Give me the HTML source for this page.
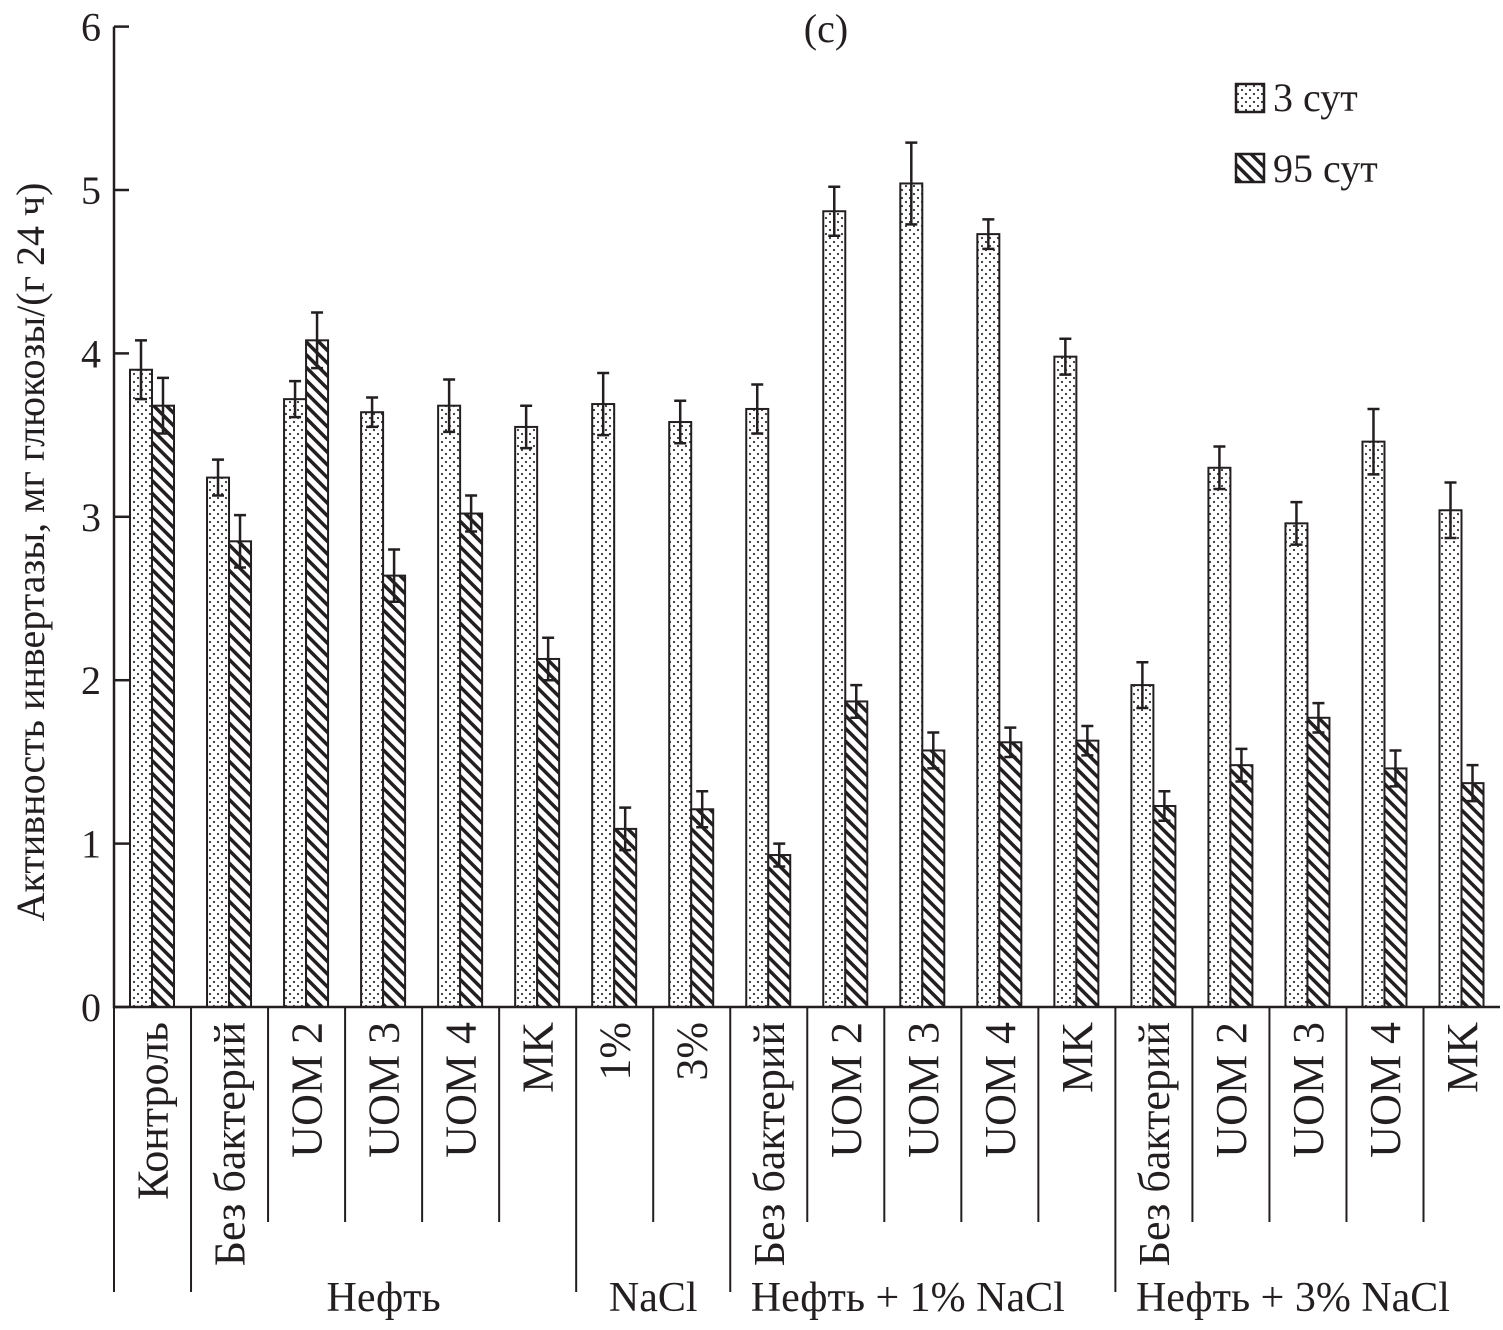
<!DOCTYPE html>
<html><head><meta charset="utf-8"><style>
body{margin:0;background:#fff}
svg text{font-family:"Liberation Serif",serif;fill:#231f20}
</style></head><body>
<svg id="chart" width="1503" height="1325" xmlns="http://www.w3.org/2000/svg">
<defs>
<pattern id="dots" width="8" height="8" patternUnits="userSpaceOnUse">
<rect width="8" height="8" fill="#fff"/><circle cx="2" cy="2" r="1.1" fill="#333"/><circle cx="6" cy="6" r="1.1" fill="#333"/>
</pattern>
<pattern id="hatch" width="9" height="9" patternUnits="userSpaceOnUse" patternTransform="rotate(-45)">
<rect width="9" height="9" fill="#fff"/><rect x="0" y="0" width="3.5" height="9" fill="#231f20"/>
</pattern>
</defs>
<g id="plot"></g>
<text x="826" y="42" font-size="40" text-anchor="middle">(с)</text>
<text transform="translate(44,552) rotate(-90)" font-size="40" text-anchor="middle">Активность инвертазы, мг глюкозы/(г 24 ч)</text>
<g>
<rect x="1236" y="84" width="28" height="28" fill="url(#dots)" stroke="#231f20" stroke-width="2.5"/>
<text x="1273" y="111" font-size="40">3 сут</text>
<rect x="1236" y="154" width="28" height="28" fill="url(#hatch)" stroke="#231f20" stroke-width="2.5"/>
<text x="1273" y="182" font-size="40">95 сут</text>
</g>
</svg>
<script>
const categories=["Контроль","Без бактерий","UOM 2","UOM 3","UOM 4","MK","1%","3%","Без бактерий","UOM 2","UOM 3","UOM 4","MK","Без бактерий","UOM 2","UOM 3","UOM 4","MK"];
const day3=[3.9,3.24,3.72,3.64,3.68,3.55,3.69,3.58,3.66,4.87,5.04,4.73,3.98,1.97,3.30,2.96,3.46,3.04];
const day3Err=[0.18,0.11,0.11,0.09,0.16,0.13,0.19,0.13,0.15,0.15,0.25,0.09,0.11,0.14,0.13,0.13,0.2,0.17];
const day95=[3.68,2.85,4.08,2.64,3.02,2.13,1.09,1.21,0.93,1.87,1.57,1.62,1.63,1.23,1.48,1.77,1.46,1.37];
const day95Err=[0.17,0.16,0.17,0.16,0.11,0.13,0.13,0.11,0.07,0.1,0.11,0.09,0.09,0.09,0.1,0.09,0.11,0.11];
const yTicks=[0,1,2,3,4,5,6];
const groupNames=["","Нефть","NaCl","Нефть + 1% NaCl","Нефть + 3% NaCl"];
const groupStarts=[0,1,6,8,13];
const groupEnds=[1,6,8,13,18];

const X0=114,CW=77.03,Y0=1007,YS=163.4;
const x=i=>X0+i*CW;
const y=v=>Y0-v*YS;
const NS="http://www.w3.org/2000/svg";
const g=document.getElementById('plot');
function mk(t,a){const e=document.createElementNS(NS,t);for(const k in a)e.setAttribute(k,a[k]);g.appendChild(e);return e;}
function err(cx,v,e,name){
  const l=mk('path',{d:`M${cx},${y(v+e)}V${y(v-e)}M${cx-6},${y(v+e)}h12M${cx-6},${y(v-e)}h12`,stroke:'#231f20','stroke-width':2.5,fill:'none'});
  
  
}
categories.forEach((c,i)=>{
  const b1=x(i)+16,bw=22;
  const r1=mk('rect',{x:b1,y:y(day3[i]),width:bw,height:y(0)-y(day3[i]),fill:'url(#dots)',stroke:'#231f20','stroke-width':2});
  
  
  const r2=mk('rect',{x:b1+bw,y:y(day95[i]),width:bw,height:y(0)-y(day95[i]),fill:'url(#hatch)',stroke:'#231f20','stroke-width':2});
  
  
  err(b1+bw/2,day3[i],day3Err[i],'error-bar-3-days-'+i);
  err(b1+bw*1.5,day95[i],day95Err[i],'error-bar-95-days-'+i);
  const t=mk('text',{transform:`translate(${x(i)+CW/2+15},1022) rotate(-90)`,'font-size':44,'text-anchor':'end'});
  t.textContent=c;
  
  
});
for(let i=0;i<=categories.length-1;i++){
  const long=groupStarts.includes(i);
  const s=mk('line',{x1:x(i),x2:x(i),y1:Y0,y2:long?1292:1222,stroke:'#231f20','stroke-width':2});
  
  
}
groupNames.forEach((n,k)=>{
  if(!n)return;
  const t=mk('text',{x:(x(groupStarts[k])+x(groupEnds[k]))/2-(k>=3?15:0),y:1311,'font-size':42,'text-anchor':'middle'});
  t.textContent=n;
  
  
});
const ax=mk('path',{d:`M${X0},${y(6)}V${Y0}H1500`,stroke:'#231f20','stroke-width':2.5,fill:'none'});


yTicks.forEach(v=>{
  const tk=mk('line',{x1:X0,x2:X0+15,y1:y(v),y2:y(v),stroke:'#231f20','stroke-width':2.5});
  
  
  const t=mk('text',{x:101,y:y(v)+14,'font-size':40,'text-anchor':'end'});
  t.textContent=v;
  
  
});
</script>
</body></html>
